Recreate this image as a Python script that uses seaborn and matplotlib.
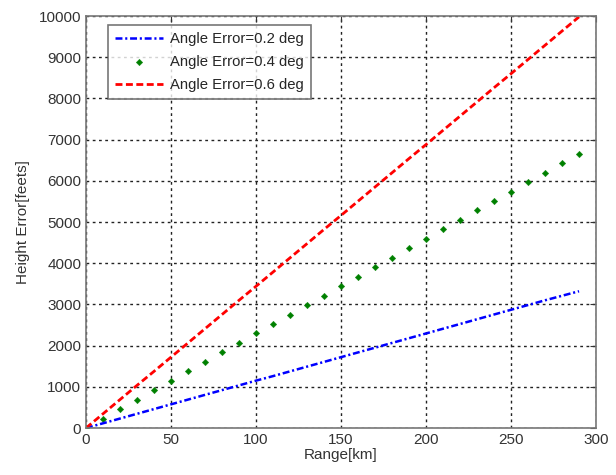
import numpy as np
import pandas as pd
import seaborn as sns
import matplotlib
matplotlib.use('Agg')
import matplotlib.pyplot as plt

# range in km, sampled every 10 km
range_km = [0, 10, 20, 30, 40, 50, 60, 70, 80, 90, 100, 110, 120, 130, 140,
            150, 160, 170, 180, 190, 200, 210, 220, 230, 240, 250, 260, 270, 280, 290]

# height error in feet
err_02 = [0, 115, 230, 345, 460, 575, 690, 805, 920, 1035, 1150, 1260, 1375, 1490, 1605,
          1720, 1835, 1950, 2065, 2180, 2295, 2410, 2525, 2640, 2755, 2870, 2985, 3100, 3210, 3320]
err_04 = [0, 230, 460, 690, 920, 1150, 1375, 1605, 1835, 2065, 2295, 2525, 2755, 2985, 3210,
          3440, 3670, 3900, 4130, 4360, 4590, 4820, 5050, 5280, 5510, 5740, 5970, 6200, 6430, 6650]
err_06 = [0, 345, 690, 1035, 1375, 1720, 2065, 2410, 2755, 3100, 3440, 3785, 4130, 4475, 4820,
          5160, 5505, 5850, 6195, 6540, 6880, 7225, 7570, 7915, 8260, 8600, 8945, 9290, 9635, 9980]

df = pd.DataFrame({'range': range_km, 'e02': err_02, 'e04': err_04, 'e06': err_06})

sns.set_style('white')
plt.rcParams['font.family'] = ['Liberation Sans', 'DejaVu Sans']
plt.rcParams['lines.scale_dashes'] = False

fig = plt.figure(figsize=(6.16, 4.75), dpi=100)
ax = fig.add_axes([0.1396, 0.0989, 0.828, 0.8674])

sns.lineplot(data=df, x='range', y='e02', ax=ax, color='blue', linestyle=(0, (5, 2, 1.5, 2)),
             linewidth=1.8, label='Angle Error=0.2 deg')
sns.scatterplot(data=df, x='range', y='e04', ax=ax, color='green', marker='D',
                s=11, edgecolor='green', label='Angle Error=0.4 deg')
sns.lineplot(data=df, x='range', y='e06', ax=ax, color='red', linestyle=(0, (5, 2.5)),
             linewidth=2.0, label='Angle Error=0.6 deg')

ax.set_xlim(0, 300)
ax.set_ylim(0, 10000)
ax.set_xticks(np.arange(0, 301, 50))
ax.set_yticks(np.arange(0, 10001, 1000))
ax.grid(True, color='#222222', linestyle=(0, (2, 2.5)), linewidth=1.0)
ax.set_axisbelow(True)
ax.tick_params(direction='in', length=4, labelsize=11, colors='#333333', top=True, right=True)
for s in ax.spines.values():
    s.set_color('#777777')
    s.set_linewidth(1.2)

ax.set_xlabel('Range[km]', fontsize=11, color='#333333', labelpad=1)
ax.set_ylabel('Height Error[feets]', fontsize=11, color='#333333', labelpad=6)

leg = ax.legend(loc='upper left', bbox_to_anchor=(0.044, 0.977), fontsize=10.7,
                frameon=True, fancybox=False, handlelength=3.2, borderpad=0.45,
                labelspacing=0.6, handletextpad=0.5, borderaxespad=0)
leg.get_frame().set_edgecolor('#555555')
leg.get_frame().set_linewidth(1.2)

fig.savefig('out.png', dpi=100)
